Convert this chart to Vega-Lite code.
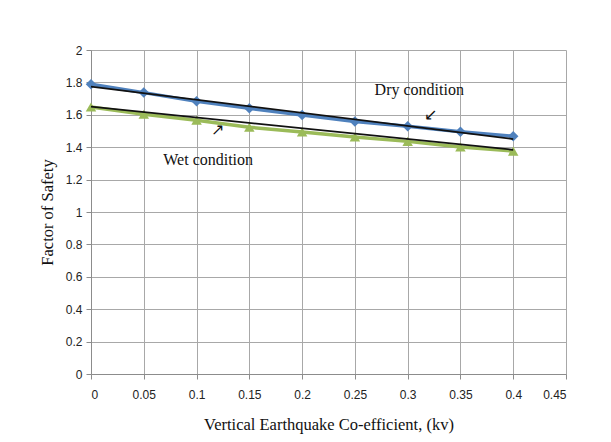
{
  "$schema": "https://vega.github.io/schema/vega-lite/v6.json",
  "autosize": "none",
  "padding": {"left": 91, "top": 50, "right": 45, "bottom": 68},
  "width": 475,
  "height": 324,
  "background": "white",
  "config": {
    "view": {"stroke": null},
    "axis": {
      "gridColor": "#a8a8a8",
      "gridWidth": 1,
      "domainColor": "#8c8c8c",
      "tickColor": "#8c8c8c",
      "tickSize": 5,
      "labelFont": "Liberation Sans",
      "labelFontSize": 12,
      "labelColor": "#222",
      "labelOverlap": false,
      "titleFont": "Liberation Serif",
      "titleFontSize": 16.5,
      "titleFontWeight": "normal",
      "titleColor": "#111"
    }
  },
  "datasets": {
    "fs": [
      {"kv": 0, "fs": 1.788, "cond": "Dry"},
      {"kv": 0.05, "fs": 1.737, "cond": "Dry"},
      {"kv": 0.1, "fs": 1.683, "cond": "Dry"},
      {"kv": 0.15, "fs": 1.64, "cond": "Dry"},
      {"kv": 0.2, "fs": 1.599, "cond": "Dry"},
      {"kv": 0.25, "fs": 1.558, "cond": "Dry"},
      {"kv": 0.3, "fs": 1.529, "cond": "Dry"},
      {"kv": 0.35, "fs": 1.496, "cond": "Dry"},
      {"kv": 0.4, "fs": 1.467, "cond": "Dry"},
      {"kv": 0, "fs": 1.648, "cond": "Wet"},
      {"kv": 0.05, "fs": 1.603, "cond": "Wet"},
      {"kv": 0.1, "fs": 1.567, "cond": "Wet"},
      {"kv": 0.15, "fs": 1.523, "cond": "Wet"},
      {"kv": 0.2, "fs": 1.494, "cond": "Wet"},
      {"kv": 0.25, "fs": 1.463, "cond": "Wet"},
      {"kv": 0.3, "fs": 1.436, "cond": "Wet"},
      {"kv": 0.35, "fs": 1.401, "cond": "Wet"},
      {"kv": 0.4, "fs": 1.376, "cond": "Wet"}
    ],
    "fit": [
      {"kv": 0, "fs": 1.774, "cond": "Dry"},
      {"kv": 0.4, "fs": 1.45, "cond": "Dry"},
      {"kv": 0, "fs": 1.65, "cond": "Wet"},
      {"kv": 0.4, "fs": 1.384, "cond": "Wet"}
    ],
    "notes": [
      {"kv": 0.311, "fs": 1.755, "label": "Dry condition"},
      {"kv": 0.322, "fs": 1.6, "label": "↙"},
      {"kv": 0.111, "fs": 1.323, "label": "Wet condition"},
      {"kv": 0.12, "fs": 1.507, "label": "↗"}
    ]
  },
  "encoding": {
    "x": {
      "field": "kv", "type": "quantitative",
      "scale": {"domain": [0, 0.45], "nice": false},
      "axis": {"values": [0, 0.05, 0.1, 0.15, 0.2, 0.25, 0.3, 0.35, 0.4, 0.45], "format": "~g", "title": "Vertical  Earthquake  Co-efficient,  (kv)", "labelPadding": 10, "titlePadding": 16}
    },
    "y": {
      "field": "fs", "type": "quantitative",
      "scale": {"domain": [0, 2], "nice": false},
      "axis": {"values": [0, 0.2, 0.4, 0.6, 0.8, 1, 1.2, 1.4, 1.6, 1.8, 2], "format": "~g", "title": "Factor of Safety", "labelPadding": 4, "titlePadding": 10}
    }
  },
  "layer": [
    {
      "data": {"name": "fs"},
      "mark": {"type": "line", "strokeWidth": 3.5},
      "encoding": {
        "color": {"field": "cond", "type": "nominal", "scale": {"domain": ["Dry", "Wet"], "range": ["#4F81BD", "#9BBB59"]}, "legend": null}
      }
    },
    {
      "data": {"name": "fs"},
      "mark": {"type": "point", "filled": true, "opacity": 1, "size": 110},
      "encoding": {
        "color": {"field": "cond", "type": "nominal", "scale": {"domain": ["Dry", "Wet"], "range": ["#4F81BD", "#9BBB59"]}, "legend": null},
        "shape": {"field": "cond", "type": "nominal", "scale": {"domain": ["Dry", "Wet"], "range": ["diamond", "triangle-up"]}, "legend": null}
      }
    },
    {
      "data": {"name": "fit"},
      "mark": {"type": "line", "color": "#111111", "strokeWidth": 1.8},
      "encoding": {
        "detail": {"field": "cond", "type": "nominal"}
      }
    },
    {
      "data": {"name": "notes"},
      "mark": {"type": "text", "font": "Liberation Serif", "fontSize": 16, "color": "#111"},
      "encoding": {
        "text": {"field": "label"}
      }
    }
  ]
}
